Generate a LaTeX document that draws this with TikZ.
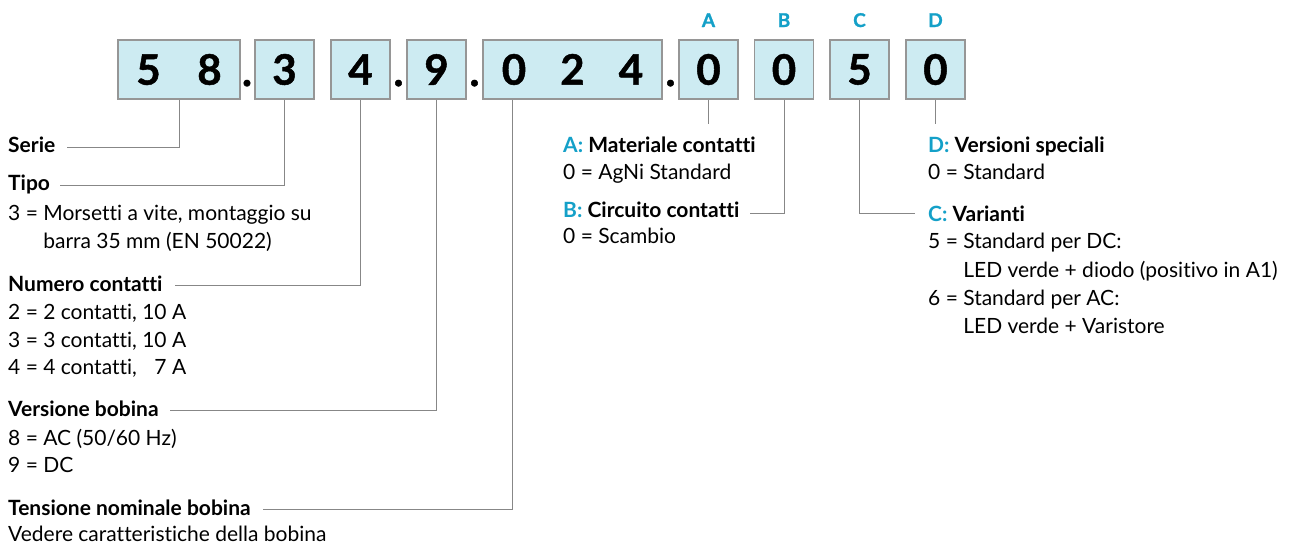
\documentclass[tikz,border=0pt]{standalone}
\usepackage{fontspec}
\setmainfont{Lato}[Ligatures=NoCommon]
\newfontfamily\digitfont{Lato Bold}[FakeBold=1.2]
\usetikzlibrary{calc}
\definecolor{boxfill}{RGB}{205,235,242}
\definecolor{boxline}{RGB}{150,150,150}
\definecolor{wiregrey}{RGB}{135,135,135}
\definecolor{accent}{RGB}{20,160,200}

\tikzset{
  digitbox/.style={draw=boxline, line width=1.2pt, fill=boxfill, minimum height=59pt,
    inner sep=0pt, font=\fontsize{42}{42}\selectfont\digitfont},
  dotsep/.style={inner sep=0pt, anchor=base, font=\fontsize{42}{42}\selectfont\digitfont},
  tag/.style={inner sep=0pt, anchor=base, text=accent, font=\fontsize{19}{19}\selectfont\digitfont},
  head/.style={inner sep=0pt, anchor=base west, font=\fontsize{21}{21}\selectfont\bfseries},
  val/.style={inner sep=0pt, anchor=base west, font=\fontsize{21}{21}\selectfont},
  wire/.style={draw=wiregrey, line width=0.9pt},
}
\newcommand\key[1]{\textcolor{accent}{#1}}

\begin{document}
\begin{tikzpicture}[x=1pt,y=-1pt]
\useasboundingbox (0,0) rectangle (1294,547);

% code boxes
\node[digitbox, minimum width=120pt] (b58)  at (179,69.5)   {\makebox[61pt]{5}\makebox[61pt]{8}};
\node[digitbox, minimum width=59pt]  (b3)   at (284.5,69.5) {3};
\node[digitbox, minimum width=59pt]  (b4)   at (360.5,69.5) {4};
\node[digitbox, minimum width=59pt]  (b9)   at (436.5,69.5) {9};
\node[digitbox, minimum width=179pt] (b024) at (572.5,69.5) {\makebox[58.5pt]{0}\makebox[58.5pt]{2}\makebox[58.5pt]{4}};
\node[digitbox, minimum width=59pt]  (bA)   at (708.5,69.5) {0};
\node[digitbox, minimum width=59pt]  (bB)   at (784,69.5)   {0};
\node[digitbox, minimum width=59pt]  (bC)   at (859.5,69.5) {5};
\node[digitbox, minimum width=59pt]  (bD)   at (935.5,69.5) {0};

% separating dots
\node[dotsep] (s1) at (247,86) {.};
\node[dotsep] (s2) at (398.5,86) {.};
\node[dotsep] (s3) at (474.5,86) {.};
\node[dotsep] (s4) at (670.5,86) {.};

% position letters
\node[tag] (tA) at (708.5,27) {A};
\node[tag] (tB) at (784,27)   {B};
\node[tag] (tC) at (859.5,27) {C};
\node[tag] (tD) at (935.5,27) {D};

% left column
\node[head] (hSerie) at (8,152) {Serie};
\node[head] (hTipo)  at (8,190) {Tipo};
\node[val]  (vTipo1) at (8,220) {3 = Morsetti a vite, montaggio su};
\node[val]  (vTipo2) at (8,248) {\phantom{3 = }barra 35 mm (EN 50022)};
\node[head] (hNum)   at (8,291) {Numero contatti};
\node[val]  (vNum1)  at (8,319) {2 = 2 contatti, 10 A};
\node[val]  (vNum2)  at (8,347) {3 = 3 contatti, 10 A};
\node[val]  (vNum3)  at (8,374) {4 = 4 contatti, \phantom{1}7 A};
\node[head] (hVer)   at (8,416) {Versione bobina};
\node[val]  (vVer1)  at (8,445) {8 = AC (50/60 Hz)};
\node[val]  (vVer2)  at (8,472) {9 = DC};
\node[head] (hTen)   at (8,515) {Tensione nominale bobina};
\node[val]  (vTen1)  at (8,541) {Vedere caratteristiche della bobina};

% middle column
\node[head] (hA)  at (563,152) {\key{A:} Materiale contatti};
\node[val]  (vA1) at (563,179) {0 = AgNi Standard};
\node[head] (hB)  at (563,217) {\key{B:} Circuito contatti};
\node[val]  (vB1) at (563,243) {0 = Scambio};

% right column
\node[head] (hD)  at (928,152) {\key{D:} Versioni speciali};
\node[val]  (vD1) at (928,179) {0 = Standard};
\node[head] (hC)  at (928,221) {\key{C:} Varianti};
\node[val]  (vC1) at (928,248) {5 = Standard per DC:};
\node[val]  (vC2) at (928,277) {\phantom{5 = }LED verde + diodo (positivo in A1)};
\node[val]  (vC3) at (928,305) {6 = Standard per AC:};
\node[val]  (vC4) at (928,333) {\phantom{6 = }LED verde + Varistore};

% stub ends
\coordinate (eA) at (708.5,124);
\coordinate (eD) at (935.5,124);

% connectors
\draw[wire] (b58.south) |- ($(hSerie.base east)+(12,-5)$);
\draw[wire] (b3.south)  |- ($(hTipo.base east)+(10,-5)$);
\draw[wire] (b4.south)  |- ($(hNum.base east)+(12,-6)$);
\draw[wire] (b9.south)  |- ($(hVer.base east)+(11,-6)$);
\draw[wire] ($(b024.south west)+(30,0)$) |- ($(hTen.base east)+(12,-6)$);
\draw[wire] (bA.south) -- (eA);
\draw[wire] (bB.south) |- ($(hB.base east)+(10,-4)$);
\draw[wire] (bC.south) |- ($(hC.base west)+(-13,-8)$);
\draw[wire] (bD.south) -- (eD);
\end{tikzpicture}
\end{document}
